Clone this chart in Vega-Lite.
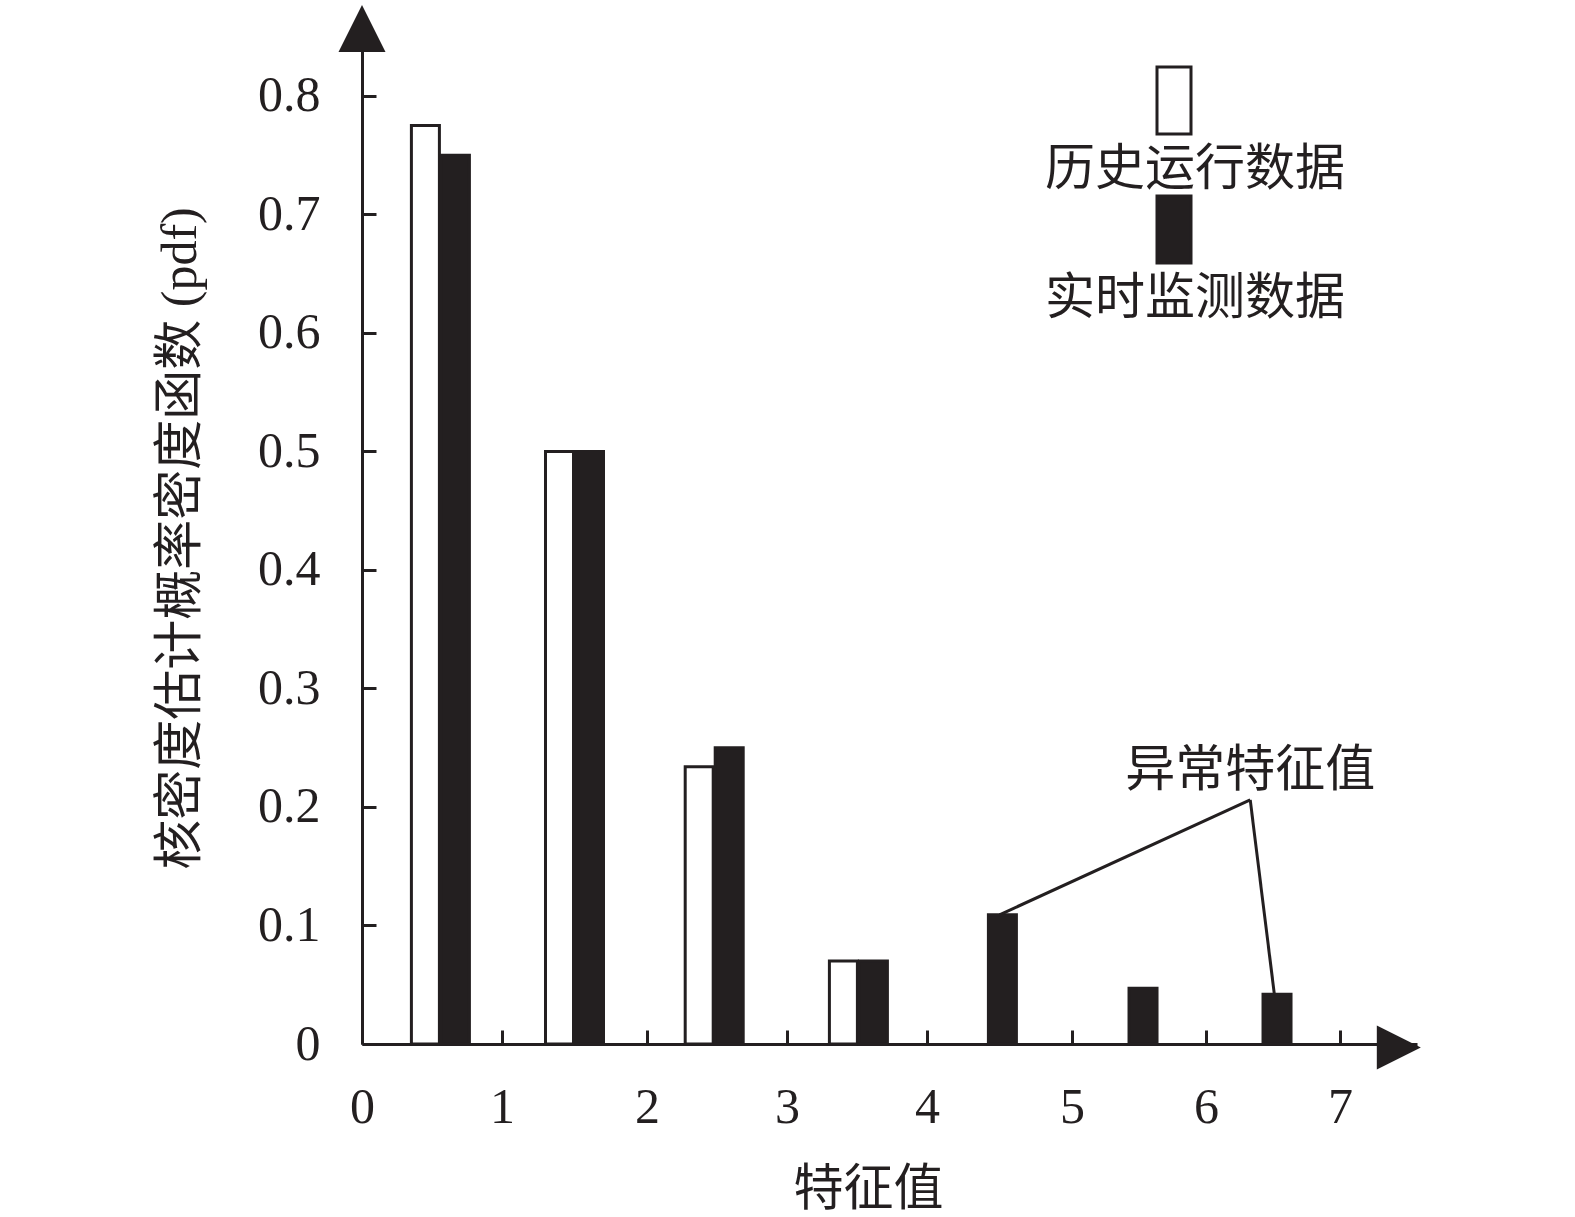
{
  "$schema": "https://vega.github.io/schema/vega-lite/v6.json",
  "width": 1055,
  "height": 1031,
  "autosize": {"type": "none"},
  "padding": {"left": 362, "top": 13, "right": 158, "bottom": 173},
  "background": "white",
  "config": {
    "view": {"stroke": null},
    "font": "Liberation Serif, Noto Sans CJK SC",
    "axis": {
      "domainColor": "#231f20",
      "domainWidth": 3,
      "tickColor": "#231f20",
      "tickWidth": 3,
      "tickSize": -14,
      "labelColor": "#231f20",
      "labelFont": "Liberation Serif, Noto Sans CJK SC",
      "labelFontSize": 50,
      "titleColor": "#231f20",
      "titleFont": "Liberation Serif, Noto Sans CJK SC",
      "titleFontSize": 50,
      "titleFontWeight": "normal",
      "grid": false
    }
  },
  "data": {
    "values": [
      {"x": 0.56, "series": "历史运行数据", "pdf": 0.775},
      {"x": 0.56, "series": "实时监测数据", "pdf": 0.75},
      {"x": 1.5, "series": "历史运行数据", "pdf": 0.5},
      {"x": 1.5, "series": "实时监测数据", "pdf": 0.5},
      {"x": 2.48, "series": "历史运行数据", "pdf": 0.234},
      {"x": 2.48, "series": "实时监测数据", "pdf": 0.25},
      {"x": 3.51, "series": "历史运行数据", "pdf": 0.07},
      {"x": 3.51, "series": "实时监测数据", "pdf": 0.07},
      {"x": 4.52, "series": "实时监测数据", "pdf": 0.109},
      {"x": 5.53, "series": "实时监测数据", "pdf": 0.047},
      {"x": 6.53, "series": "实时监测数据", "pdf": 0.042}
    ]
  },
  "layer": [
    {
      "encoding": {
        "x": {
          "field": "x",
          "type": "quantitative",
          "title": "特征值",
          "scale": {
            "domain": [0, 1, 2, 3, 4, 5, 6, 7, 7.55],
            "range": [0, 140, 285, 425, 565, 710, 844, 978, 1055],
            "nice": false,
            "zero": false,
            "padding": 0
          },
          "axis": {
            "values": [0, 1, 2, 3, 4, 5, 6, 7],
            "format": "d",
            "labelPadding": 52,
            "titlePadding": 32,
            "titleX": 506,
            "labelFlush": false
          }
        },
        "y": {
          "field": "pdf",
          "type": "quantitative",
          "title": "核密度估计概率密度函数 (pdf)",
          "scale": {"domain": [0, 0.87], "nice": false, "padding": 0},
          "axis": {
            "values": [0, 0.1, 0.2, 0.3, 0.4, 0.5, 0.6, 0.7, 0.8],
            "labelExpr": "datum.value == 0 ? '0' : format(datum.value, '.1f')",
            "labelPadding": 56,
            "titlePadding": 52,
            "titleY": 525,
            "labelFlush": false
          }
        },
        "color": {
          "field": "series",
          "type": "nominal",
          "scale": {
            "domain": ["历史运行数据", "实时监测数据"],
            "range": ["#ffffff", "#231f20"]
          },
          "legend": {
            "orient": "none",
            "legendX": 633,
            "legendY": 132,
            "title": null,
            "direction": "vertical",
            "symbolType": "M13.7,-10.3H17.1V-3.6H13.7Z",
            "symbolSize": 400,
            "symbolOffset": 0,
            "symbolStrokeColor": "#231f20",
            "symbolStrokeWidth": 3,
            "symbolOpacity": 1,
            "labelFontSize": 50,
            "labelFont": "Liberation Serif, Noto Sans CJK SC",
            "labelColor": "#231f20",
            "labelOffset": 0,
            "labelLimit": 0,
            "rowPadding": -5,
            "padding": 0
          }
        }
      },
      "layer": [
        {
          "transform": [{"filter": "datum.series == '历史运行数据'"}],
          "mark": {"type": "bar", "width": 28, "xOffset": -15, "stroke": "#231f20", "strokeWidth": 3, "opacity": 1}
        },
        {
          "transform": [{"filter": "datum.series == '实时监测数据' && datum.x < 4"}],
          "mark": {"type": "bar", "width": 28, "xOffset": 15, "stroke": "#231f20", "strokeWidth": 3, "opacity": 1}
        },
        {
          "transform": [{"filter": "datum.series == '实时监测数据' && datum.x > 4"}],
          "mark": {"type": "bar", "width": 28, "xOffset": 0, "stroke": "#231f20", "strokeWidth": 3, "opacity": 1}
        }
      ]
    },
    {
      "data": {"values": [{}]},
      "mark": {"type": "rule", "stroke": "#231f20", "strokeWidth": 3},
      "encoding": {
        "x": {"datum": 4.5, "type": "quantitative", "title": "特征值"},
        "y": {"datum": 0.109, "type": "quantitative", "title": "核密度估计概率密度函数 (pdf)"},
        "x2": {"datum": 6.33},
        "y2": {"datum": 0.206}
      }
    },
    {
      "data": {"values": [{}]},
      "mark": {"type": "rule", "stroke": "#231f20", "strokeWidth": 3},
      "encoding": {
        "x": {"datum": 6.33, "type": "quantitative", "title": "特征值"},
        "y": {"datum": 0.206, "type": "quantitative", "title": "核密度估计概率密度函数 (pdf)"},
        "x2": {"datum": 6.51},
        "y2": {"datum": 0.042}
      }
    },
    {
      "data": {"values": [{"label": "异常特征值"}]},
      "mark": {"type": "text", "fontSize": 50, "font": "Liberation Serif, Noto Sans CJK SC", "fill": "#231f20", "align": "center", "baseline": "middle"},
      "encoding": {
        "x": {"datum": 6.33, "type": "quantitative", "title": "特征值"},
        "y": {"datum": 0.23, "type": "quantitative", "title": "核密度估计概率密度函数 (pdf)"},
        "text": {"field": "label"}
      }
    },
    {
      "data": {"values": [{}]},
      "mark": {"type": "point", "shape": "M0,-1L-1,1L1,1Z", "size": 2209, "filled": true, "fill": "#231f20", "opacity": 1, "clip": false},
      "encoding": {
        "x": {"datum": 0, "type": "quantitative", "title": "特征值"},
        "y": {"datum": 0.857, "type": "quantitative", "title": "核密度估计概率密度函数 (pdf)"}
      }
    },
    {
      "data": {"values": [{}]},
      "mark": {"type": "point", "shape": "M1,0L-1,-1L-1,1Z", "size": 1936, "filled": true, "fill": "#231f20", "opacity": 1, "clip": false},
      "encoding": {
        "x": {"datum": 7.42, "type": "quantitative", "title": "特征值"},
        "y": {"datum": -0.003, "type": "quantitative", "title": "核密度估计概率密度函数 (pdf)"}
      }
    }
  ]
}
